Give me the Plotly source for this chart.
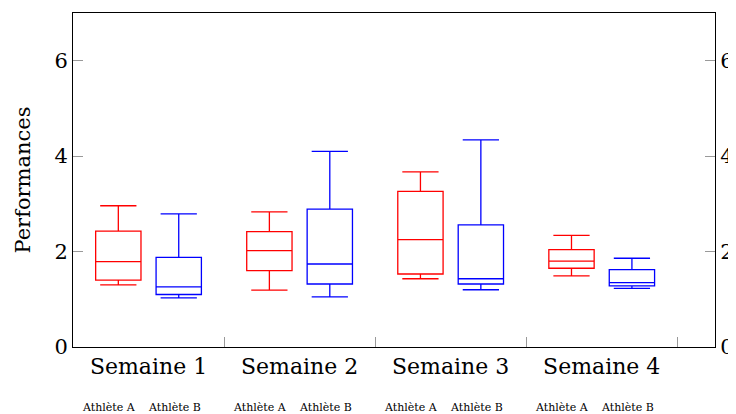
import plotly.graph_objects as go

weeks = ["Semaine 1", "Semaine 2", "Semaine 3", "Semaine 4"]
athletes = ["Athlète A", "Athlète B"]

# Athlète A (red)
a_min = [1.30, 1.19, 1.43, 1.49]
a_q1 = [1.40, 1.60, 1.53, 1.65]
a_med = [1.79, 2.02, 2.25, 1.80]
a_q3 = [2.43, 2.42, 3.26, 2.04]
a_max = [2.96, 2.83, 3.67, 2.34]

# Athlète B (blue)
b_min = [1.03, 1.05, 1.20, 1.23]
b_q1 = [1.10, 1.32, 1.32, 1.28]
b_med = [1.26, 1.74, 1.43, 1.35]
b_q3 = [1.88, 2.89, 2.56, 1.62]
b_max = [2.79, 4.10, 4.34, 1.86]

y_ticks = [0, 2, 4, 6]

FONT = "DejaVu Serif"
group_pos = [i + 1 for i in range(len(weeks))]
offset = 0.2

fig = go.Figure()
for name, color, sign, mn, q1, md, q3, mx in [
    (athletes[0], "#ff0000", -1, a_min, a_q1, a_med, a_q3, a_max),
    (athletes[1], "#0000ff", 1, b_min, b_q1, b_med, b_q3, b_max),
]:
    fig.add_trace(go.Box(
        name=name,
        x=[g + sign * offset for g in group_pos],
        q1=q1, median=md, q3=q3, lowerfence=mn, upperfence=mx,
        width=0.3,
        whiskerwidth=0.8,
        line=dict(color=color, width=1.3),
        fillcolor="rgba(0,0,0,0)",
        showlegend=False,
        hoverinfo="skip",
    ))

# invisible trace for right axis
fig.add_trace(go.Scatter(x=[group_pos[0]], y=[0], yaxis="y2", mode="markers",
                         marker=dict(opacity=0), showlegend=False, hoverinfo="skip"))

annotations = []
for g in group_pos:
    for dx, lab in [(-0.26, athletes[0]), (0.17, athletes[1])]:
        annotations.append(dict(
            x=g + dx, y=-0.18, xref="x", yref="paper", text=lab,
            showarrow=False, font=dict(family=FONT, size=11, color="black"),
            xanchor="center", yanchor="middle",
        ))

fig.update_layout(
    width=728, height=406,
    margin=dict(l=65, r=21, t=5, b=67, autoexpand=False),
    paper_bgcolor="white", plot_bgcolor="white",
    font=dict(family=FONT, size=21, color="black"),
    xaxis=dict(
        range=[0.5, 4.75],
        tickvals=group_pos, ticktext=weeks,
        ticks="", showgrid=False, zeroline=False, automargin=False,
        showline=True, linecolor="black", linewidth=1, mirror=True,
        minor=dict(tickvals=[1.5, 2.5, 3.5, 4.5], ticks="inside", ticklen=10,
                   tickcolor="#999999", tickwidth=1, showgrid=False),
        tickfont=dict(family=FONT, size=22),
    ),
    yaxis=dict(
        range=[0, 7], tickvals=y_ticks, automargin=False,
        ticks="inside", ticklen=10, tickcolor="#999999",
        showgrid=False, zeroline=False,
        showline=True, linecolor="black", linewidth=1,
        title=dict(text="Performances", font=dict(family=FONT, size=21), standoff=18),
        tickfont=dict(family=FONT, size=21),
    ),
    yaxis2=dict(
        range=[0, 7], tickvals=y_ticks, overlaying="y", side="right", automargin=False,
        ticks="inside", ticklen=10, tickcolor="#999999",
        showgrid=False, zeroline=False,
        showline=True, linecolor="black", linewidth=1,
        tickfont=dict(family=FONT, size=21),
    ),
    annotations=annotations,
)

fig.write_html("out.html")
